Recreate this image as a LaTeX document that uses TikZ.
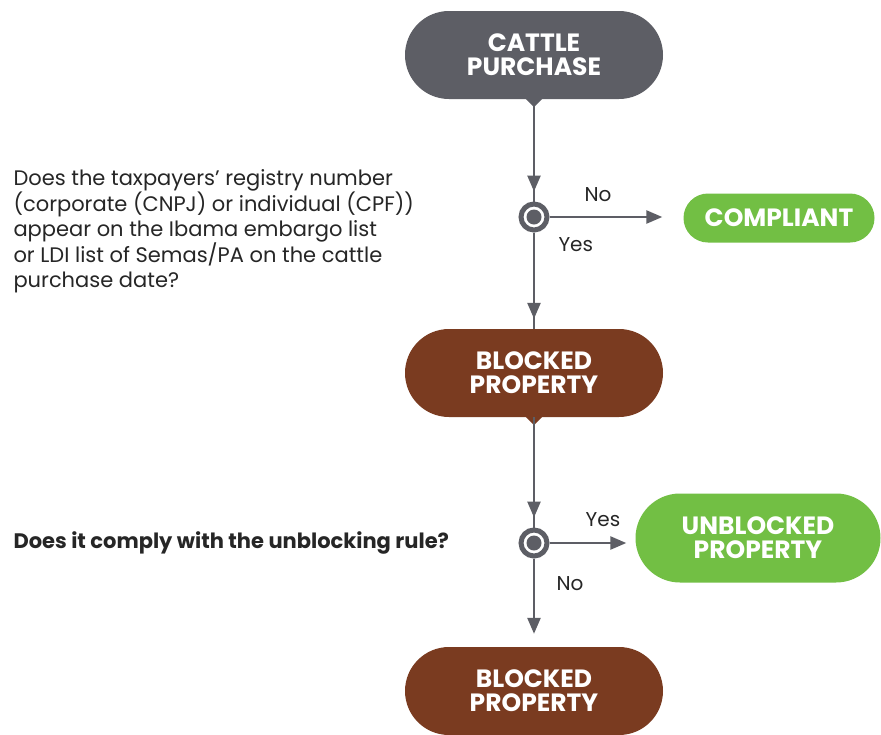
\documentclass[tikz,border=0pt]{standalone}
\usepackage{fontspec}
\setmainfont{Poppins}
\usetikzlibrary{arrows.meta}
\usetikzlibrary{shapes.misc}
\usetikzlibrary{calc}

\definecolor{flowgray}{HTML}{5D5E65}
\definecolor{blockbrown}{HTML}{7A3B20}
\definecolor{okgreen}{HTML}{72BF44}

\begin{document}
\begin{tikzpicture}[x=1pt,y=-1pt,>/.tip={Triangle[length=16pt,width=13pt]},
	pill/.style={shape=rounded rectangle,fill=#1,text=white,align=center,inner sep=0pt,
		font=\bfseries\fontsize{25}{24}\selectfont,minimum height=88pt,minimum width=258pt},
	line/.style={draw=flowgray,line width=2.5pt},
	decision/.style={draw=flowgray,line width=5pt,circle,fill=white,minimum size=26pt,inner sep=0pt},
	answer/.style={font=\fontsize{20}{24}\selectfont,text=black!85}]
	\useasboundingbox[fill=white] (0,0) rectangle (881,734);

	\draw (534,55) node (cattle) [pill=flowgray] {CATTLE\\PURCHASE};
	\draw (534,373) node (blocked) [pill=blockbrown] {BLOCKED\\PROPERTY};
	\draw (534,691) node (final) [pill=blockbrown] {BLOCKED\\PROPERTY};
	\draw (779,218) node (compliant) [pill=okgreen,minimum height=49pt,minimum width=191pt] {COMPLIANT};
	\draw (758,538) node (unblocked) [pill=okgreen,minimum width=245pt,minimum height=89pt] {UNBLOCKED\\PROPERTY};

	% pointers under the pills
	\fill[flowgray] ($(cattle.south)+(-9,-1)$) -- ++(18,0) -- ++(-9,9) -- cycle;
	\fill[blockbrown] ($(blocked.south)+(-9,-1)$) -- ++(18,0) -- ++(-9,9) -- cycle;

	\draw (534,217) node (q1) [decision] {};
	\draw (534,543) node (q2) [decision] {};
	\fill[flowgray] (q1.center) circle (7.5);
	\fill[flowgray] (q2.center) circle (7.5);

	\node (ask1) [anchor=north west,align=left,font=\fontsize{21}{25.5}\selectfont,text=black!85] at (10,166)
		{Does the taxpayers’ registry number\\(corporate (CNPJ) or individual (CPF))\\appear on the Ibama embargo list\\or LDI list of Semas/PA on the cattle\\purchase date?};
	\node (ask2) [anchor=west,font=\bfseries\fontsize{21}{24}\selectfont,text=black!85] at (10,543)
		{Does it comply with the unblocking rule?};

	\path[line] (cattle.south) -- (q1.north);
	\path[line,->,shorten >=10pt] (cattle.south) -- (q1.north);
	\path[line] (q1.south) -- (blocked.north);
	\path[line,->,shorten >=10pt] (q1.south) -- (blocked.north);
	\path[line] (blocked.south) -- (q2.north);
	\path[line,->,shorten >=10pt] (blocked.south) -- (q2.north);
	\path[line,->,shorten >=13pt] (q2.south) -- (final.north);
	\path[line,->,shorten >=21pt] (q1.east) -- (q1.east -| compliant.west);
	\path[line,->,shorten >=9pt] (q2.east) -- (q2.east -| unblocked.west);

	\node (no1) [answer] at (598,195) {No};
	\node (yes1) [answer,anchor=west] at (555,245) {Yes};
	\node (yes2) [answer] at (603,520) {Yes};
	\node (no2) [answer,anchor=west] at (553,584) {No};
\end{tikzpicture}
\end{document}
